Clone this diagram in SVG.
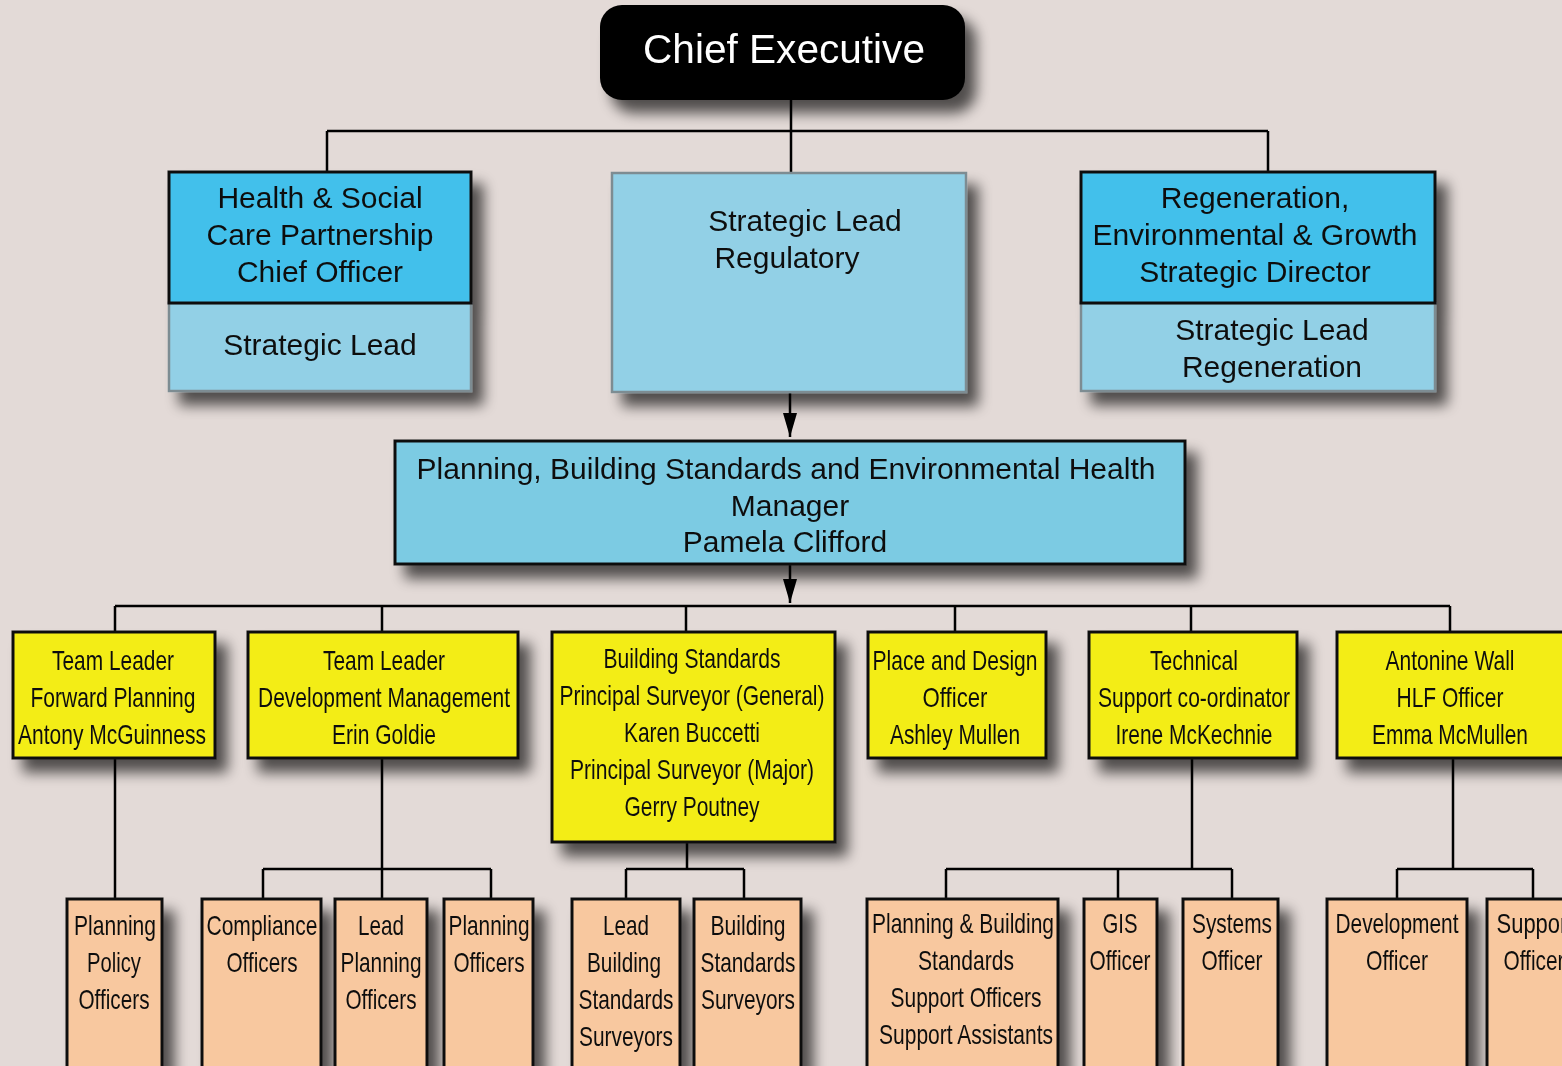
<svg xmlns="http://www.w3.org/2000/svg" width="1562" height="1066" viewBox="0 0 1562 1066">
<defs>
<filter id="sh" x="-20%" y="-20%" width="150%" height="160%">
<feGaussianBlur in="SourceAlpha" stdDeviation="7"/>
<feOffset dx="11" dy="13" result="b"/>
<feComponentTransfer><feFuncA type="linear" slope="0.65"/></feComponentTransfer>
<feMerge><feMergeNode/><feMergeNode in="SourceGraphic"/></feMerge>
</filter>
<marker id="ar" viewBox="0 0 24 14" refX="24" refY="7" markerWidth="24" markerHeight="14" markerUnits="userSpaceOnUse" orient="auto">
<path d="M0,0 L24,7 L0,14 Z" fill="#000"/>
</marker>
</defs>
<style>
.ln{stroke:#000;stroke-width:2.5;fill:none}
.dk{fill:#42c0eb;stroke:#111;stroke-width:3}
.lt{fill:#92d0e6;stroke:#7d8c92;stroke-width:2.5}
.mg{fill:#7ccbe3;stroke:#111;stroke-width:3}
.yl{fill:#f3ed16;stroke:#111;stroke-width:3}
.or{fill:#f8c89f;stroke:#111;stroke-width:3}
.t30{font-family:"Liberation Sans",Arial,sans-serif;font-size:30px;fill:#111;text-anchor:middle}
.tn{font-family:"Liberation Sans Narrow","Liberation Sans",Arial,sans-serif;font-size:28px;fill:#111;text-anchor:middle}
</style>
<rect width="1562" height="1066" fill="#e3dad7"/>

<g id="connectors">
<path class="ln" d="M791,100 V172 M327,131 H1268 M327,131 V172 M1268,131 V172"/>
<path class="ln" d="M790,392 V437" marker-end="url(#ar)"/>
<path class="ln" d="M790,564 V603" marker-end="url(#ar)"/>
<path class="ln" d="M115,606 H1450 M115,606 V632 M382,606 V632 M686,606 V632 M955,606 V632 M1191,606 V632 M1450,606 V632"/>
<path class="ln" d="M115,758 V899"/>
<path class="ln" d="M382,758 V869 M263,869 H491 M263,869 V899 M382,869 V899 M491,869 V899"/>
<path class="ln" d="M687,842 V869 M626,869 H744 M626,869 V899 M744,869 V899"/>
<path class="ln" d="M1192,758 V869 M946,869 H1232 M946,869 V899 M1118,869 V899 M1232,869 V899"/>
<path class="ln" d="M1453,758 V869 M1397,869 H1533 M1397,869 V899 M1533,869 V899"/>
</g>

<g id="chief" filter="url(#sh)">
<rect x="600" y="5" width="365" height="95" rx="22" fill="#000"/>
<text x="784" y="63" font-family="Liberation Sans,Arial,sans-serif" font-size="40" fill="#fff" text-anchor="middle" textLength="282" lengthAdjust="spacingAndGlyphs">Chief Executive</text>
</g>

<g id="health" filter="url(#sh)">
<rect class="lt" x="169" y="303" width="302" height="88"/>
<rect class="dk" x="169" y="172" width="302" height="131"/>
<text class="t30" x="320" y="208">Health &amp; Social</text>
<text class="t30" x="320" y="245">Care Partnership</text>
<text class="t30" x="320" y="282">Chief Officer</text>
<text class="t30" x="320" y="355">Strategic Lead</text>
</g>

<g id="regulatory" filter="url(#sh)">
<rect class="lt" x="612" y="173" width="354" height="219"/>
<text class="t30" x="805" y="231">Strategic Lead</text>
<text class="t30" x="787" y="268">Regulatory</text>
</g>

<g id="regeneration" filter="url(#sh)">
<rect class="lt" x="1081" y="303" width="354" height="88"/>
<rect class="dk" x="1081" y="172" width="354" height="131"/>
<text class="t30" x="1255" y="208">Regeneration,</text>
<text class="t30" x="1255" y="245">Environmental &amp; Growth</text>
<text class="t30" x="1255" y="282">Strategic Director</text>
<text class="t30" x="1272" y="340">Strategic Lead</text>
<text class="t30" x="1272" y="377">Regeneration</text>
</g>

<g id="manager" filter="url(#sh)">
<rect class="mg" x="395" y="441" width="790" height="123"/>
<text class="t30" x="786" y="479">Planning, Building Standards and Environmental Health</text>
<text class="t30" x="790" y="516">Manager</text>
<text class="t30" x="785" y="552">Pamela Clifford</text>
</g>

<g id="tl-forward" filter="url(#sh)">
<rect class="yl" x="13" y="632" width="202" height="126"/>
<text class="tn" x="113" y="670" textLength="122" lengthAdjust="spacingAndGlyphs">Team Leader</text>
<text class="tn" x="113" y="707" textLength="165" lengthAdjust="spacingAndGlyphs">Forward Planning</text>
<text class="tn" x="112" y="744" textLength="188" lengthAdjust="spacingAndGlyphs">Antony McGuinness</text>
</g>

<g id="tl-dev" filter="url(#sh)">
<rect class="yl" x="248" y="632" width="270" height="126"/>
<text class="tn" x="384" y="670" textLength="122" lengthAdjust="spacingAndGlyphs">Team Leader</text>
<text class="tn" x="384" y="707" textLength="252" lengthAdjust="spacingAndGlyphs">Development Management</text>
<text class="tn" x="384" y="744" textLength="104" lengthAdjust="spacingAndGlyphs">Erin Goldie</text>
</g>

<g id="bs" filter="url(#sh)">
<rect class="yl" x="552" y="632" width="283" height="210"/>
<text class="tn" x="692" y="668" textLength="177" lengthAdjust="spacingAndGlyphs">Building Standards</text>
<text class="tn" x="692" y="705" textLength="265" lengthAdjust="spacingAndGlyphs">Principal Surveyor (General)</text>
<text class="tn" x="692" y="742" textLength="136" lengthAdjust="spacingAndGlyphs">Karen Buccetti</text>
<text class="tn" x="692" y="779" textLength="244" lengthAdjust="spacingAndGlyphs">Principal Surveyor (Major)</text>
<text class="tn" x="692" y="816" textLength="135" lengthAdjust="spacingAndGlyphs">Gerry Poutney</text>
</g>

<g id="place" filter="url(#sh)">
<rect class="yl" x="868" y="632" width="178" height="126"/>
<text class="tn" x="955" y="670" textLength="165" lengthAdjust="spacingAndGlyphs">Place and Design</text>
<text class="tn" x="955" y="707" textLength="65" lengthAdjust="spacingAndGlyphs">Officer</text>
<text class="tn" x="955" y="744" textLength="130" lengthAdjust="spacingAndGlyphs">Ashley Mullen</text>
</g>

<g id="technical" filter="url(#sh)">
<rect class="yl" x="1089" y="632" width="208" height="126"/>
<text class="tn" x="1194" y="670" textLength="88" lengthAdjust="spacingAndGlyphs">Technical</text>
<text class="tn" x="1194" y="707" textLength="192" lengthAdjust="spacingAndGlyphs">Support co-ordinator</text>
<text class="tn" x="1194" y="744" textLength="157" lengthAdjust="spacingAndGlyphs">Irene McKechnie</text>
</g>

<g id="antonine" filter="url(#sh)">
<rect class="yl" x="1337" y="632" width="240" height="126"/>
<text class="tn" x="1450" y="670" textLength="129" lengthAdjust="spacingAndGlyphs">Antonine Wall</text>
<text class="tn" x="1450" y="707" textLength="107" lengthAdjust="spacingAndGlyphs">HLF Officer</text>
<text class="tn" x="1450" y="744" textLength="156" lengthAdjust="spacingAndGlyphs">Emma McMullen</text>
</g>

<g id="policy" filter="url(#sh)">
<rect class="or" x="67" y="899" width="95" height="190"/>
<text class="tn" x="115" y="935" textLength="82" lengthAdjust="spacingAndGlyphs">Planning</text>
<text class="tn" x="114" y="972" textLength="54" lengthAdjust="spacingAndGlyphs">Policy</text>
<text class="tn" x="114" y="1009" textLength="71" lengthAdjust="spacingAndGlyphs">Officers</text>
</g>

<g id="compliance" filter="url(#sh)">
<rect class="or" x="202" y="899" width="119" height="190"/>
<text class="tn" x="262" y="935" textLength="111" lengthAdjust="spacingAndGlyphs">Compliance</text>
<text class="tn" x="262" y="972" textLength="71" lengthAdjust="spacingAndGlyphs">Officers</text>
</g>

<g id="lead-planning" filter="url(#sh)">
<rect class="or" x="335" y="899" width="92" height="190"/>
<text class="tn" x="381" y="935" textLength="46" lengthAdjust="spacingAndGlyphs">Lead</text>
<text class="tn" x="381" y="972" textLength="81" lengthAdjust="spacingAndGlyphs">Planning</text>
<text class="tn" x="381" y="1009" textLength="71" lengthAdjust="spacingAndGlyphs">Officers</text>
</g>

<g id="planning-officers" filter="url(#sh)">
<rect class="or" x="444" y="899" width="89" height="190"/>
<text class="tn" x="489" y="935" textLength="81" lengthAdjust="spacingAndGlyphs">Planning</text>
<text class="tn" x="489" y="972" textLength="71" lengthAdjust="spacingAndGlyphs">Officers</text>
</g>

<g id="lead-bs" filter="url(#sh)">
<rect class="or" x="572" y="899" width="108" height="190"/>
<text class="tn" x="626" y="935" textLength="46" lengthAdjust="spacingAndGlyphs">Lead</text>
<text class="tn" x="624" y="972" textLength="74" lengthAdjust="spacingAndGlyphs">Building</text>
<text class="tn" x="626" y="1009" textLength="95" lengthAdjust="spacingAndGlyphs">Standards</text>
<text class="tn" x="626" y="1046" textLength="94" lengthAdjust="spacingAndGlyphs">Surveyors</text>
</g>

<g id="bs-surveyors" filter="url(#sh)">
<rect class="or" x="694" y="899" width="107" height="190"/>
<text class="tn" x="748" y="935" textLength="75" lengthAdjust="spacingAndGlyphs">Building</text>
<text class="tn" x="748" y="972" textLength="95" lengthAdjust="spacingAndGlyphs">Standards</text>
<text class="tn" x="748" y="1009" textLength="94" lengthAdjust="spacingAndGlyphs">Surveyors</text>
</g>

<g id="support" filter="url(#sh)">
<rect class="or" x="867" y="899" width="191" height="190"/>
<text class="tn" x="963" y="933" textLength="182" lengthAdjust="spacingAndGlyphs">Planning &amp; Building</text>
<text class="tn" x="966" y="970" textLength="96" lengthAdjust="spacingAndGlyphs">Standards</text>
<text class="tn" x="966" y="1007" textLength="151" lengthAdjust="spacingAndGlyphs">Support Officers</text>
<text class="tn" x="966" y="1044" textLength="174" lengthAdjust="spacingAndGlyphs">Support Assistants</text>
</g>

<g id="gis" filter="url(#sh)">
<rect class="or" x="1084" y="899" width="73" height="190"/>
<text class="tn" x="1120" y="933" textLength="35" lengthAdjust="spacingAndGlyphs">GIS</text>
<text class="tn" x="1120" y="970" textLength="61" lengthAdjust="spacingAndGlyphs">Officer</text>
</g>

<g id="systems" filter="url(#sh)">
<rect class="or" x="1183" y="899" width="95" height="190"/>
<text class="tn" x="1232" y="933" textLength="80" lengthAdjust="spacingAndGlyphs">Systems</text>
<text class="tn" x="1232" y="970" textLength="61" lengthAdjust="spacingAndGlyphs">Officer</text>
</g>

<g id="development" filter="url(#sh)">
<rect class="or" x="1327" y="899" width="140" height="190"/>
<text class="tn" x="1397" y="933" textLength="123" lengthAdjust="spacingAndGlyphs">Development</text>
<text class="tn" x="1397" y="970" textLength="62" lengthAdjust="spacingAndGlyphs">Officer</text>
</g>

<g id="support-officer" filter="url(#sh)">
<rect class="or" x="1487" y="899" width="120" height="190"/>
<text class="tn" x="1535" y="933" textLength="77" lengthAdjust="spacingAndGlyphs">Support</text>
<text class="tn" x="1534" y="970" textLength="61" lengthAdjust="spacingAndGlyphs">Officer</text>
</g>
</svg>
